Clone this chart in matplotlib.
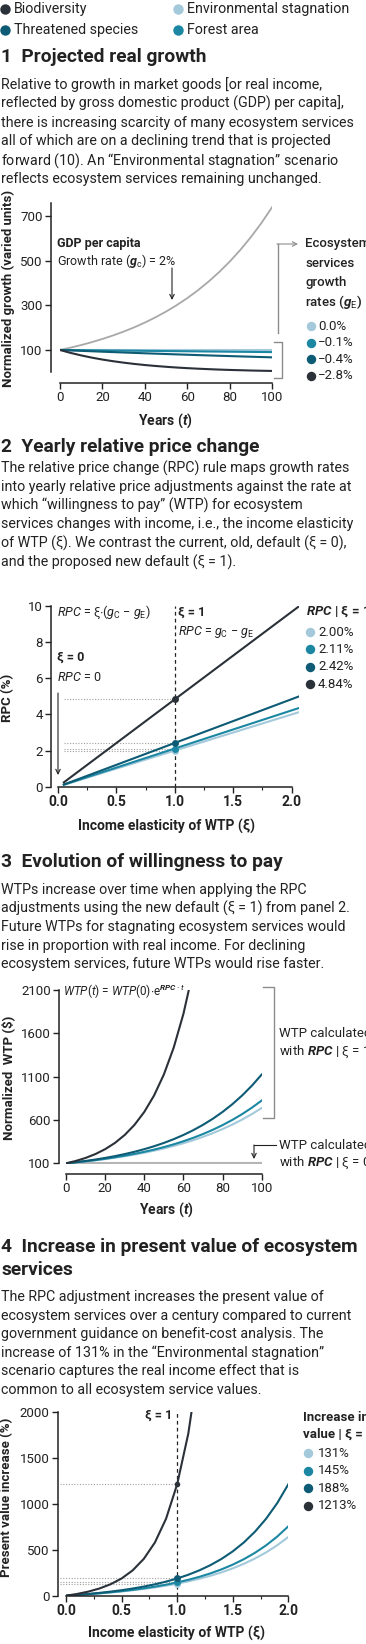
import matplotlib.pyplot as plt

W, H = 366, 1644
plt.rcParams['font.family'] = ['Roboto', 'DejaVu Sans']
plt.rcParams['mathtext.fontset'] = 'custom'
plt.rcParams['mathtext.rm'] = 'Roboto'
plt.rcParams['mathtext.it'] = 'Roboto:italic'
plt.rcParams['mathtext.bf'] = 'Roboto:bold'
plt.rcParams['mathtext.bfit'] = 'Roboto:italic:bold'
plt.rcParams['mathtext.sf'] = 'Roboto'

INK = '#222222'
C_BIO = '#2b3139'
C_THR = '#0d5b74'
C_FOR = '#1b87a2'
C_ENV = '#a3c9db'
C_GDP = '#a8a8a8'
C_GUIDE = '#8c8c8c'

# scenario order used in the small legends: stagnation, forest, threatened, biodiversity
scen_colors = [C_ENV, C_FOR, C_THR, C_BIO]
top_legend = [('Biodiversity', C_BIO), ('Environmental stagnation', C_ENV),
              ('Threatened species', C_THR), ('Forest area', C_FOR)]

# ---- panel 1: projected growth
years = list(range(0, 101, 5))
gdp = [100, 110.5, 122.1, 135.0, 149.2, 164.9, 182.2, 201.4, 222.6, 246.0, 271.8,
       300.4, 332.0, 366.9, 405.5, 448.2, 495.3, 547.4, 605.0, 668.6, 738.9]
grow_env = [100] * 21
grow_for = [100, 99.5, 99.0, 98.5, 98.0, 97.5, 97.0, 96.6, 96.1, 95.6, 95.1,
            94.7, 94.2, 93.7, 93.2, 92.8, 92.3, 91.8, 91.4, 90.9, 90.5]
grow_thr = [100, 98.0, 96.1, 94.2, 92.3, 90.5, 88.7, 86.9, 85.2, 83.5, 81.9,
            80.2, 78.7, 77.1, 75.6, 74.1, 72.6, 71.2, 69.8, 68.4, 67.0]
grow_bio = [100, 86.9, 75.6, 65.7, 57.1, 49.7, 43.2, 37.5, 32.6, 28.4, 24.7,
            21.4, 18.6, 16.2, 14.1, 12.2, 10.6, 9.3, 8.0, 7.0, 6.1]
grow_labels = ['0.0%', '\u22120.1%', '\u22120.4%', '\u22122.8%']

# ---- panel 2: RPC lines
xi_line = [0.05, 2.06]
rpc_env = [0.10, 4.12]
rpc_for = [0.11, 4.35]
rpc_thr = [0.12, 4.99]
rpc_bio = [0.24, 9.97]
rpc_at1 = [2.00, 2.11, 2.42, 4.84]
rpc_labels = ['2.00%', '2.11%', '2.42%', '4.84%']

# ---- panel 3: WTP over time
wtp_env = [100, 110.5, 122.1, 135.0, 149.2, 164.9, 182.2, 201.4, 222.6, 246.0, 271.8,
           300.4, 332.0, 366.9, 405.5, 448.2, 495.3, 547.4, 605.0, 668.6, 738.9]
wtp_for = [100, 111.3, 123.5, 137.2, 152.5, 169.5, 188.3, 209.3, 232.6, 258.4, 287.2,
           319.2, 354.7, 394.1, 438.0, 486.7, 540.9, 601.1, 668.0, 742.3, 824.9]
wtp_thr = [100, 112.9, 127.4, 143.8, 162.3, 183.1, 206.7, 233.3, 263.3, 297.1, 335.3,
           378.5, 427.2, 482.1, 544.1, 614.1, 693.1, 782.2, 882.9, 996.4, 1124.6]
years_bio = list(range(0, 66, 5))
wtp_bio = [100, 127.4, 162.3, 206.7, 263.3, 335.3, 427.2, 544.1, 693.1, 882.9, 1124.6,
           1432.6, 1824.6, 2324.0]
wtp_old = [100] * 21

# ---- panel 4: present value increase
xi = [round(0.1 * i, 1) for i in range(21)]
pv_env = [0, 7.3, 15.4, 24.5, 34.7, 46.2, 59.2, 73.9, 90.6, 109.6, 131.3,
          156.1, 184.4, 216.9, 254.3, 297.5, 347.2, 404.8, 471.5, 548.9, 638.9]
pv_for = [0, 7.7, 16.3, 26.1, 37.1, 49.6, 63.9, 80.1, 98.7, 120.0, 144.5,
          172.8, 205.4, 243.1, 287.0, 338.0, 397.4, 466.8, 548.1, 643.3, 755.1]
pv_thr = [0, 8.9, 19.1, 30.8, 44.3, 59.9, 78.1, 99.3, 124.1, 153.2, 187.5,
          228.0, 276.0, 333.1, 401.1, 482.4, 579.7, 696.7, 837.5, 1007.3, 1212.6]
xi_bio = xi[:13]
pv_bio = [0, 19.1, 44.3, 78.1, 124.1, 187.5, 276.0, 401.1, 579.7, 837.5, 1212.6,
          1762.9, 2576.0]
pv_at1 = [131, 145, 188, 1213]
pv_labels = ['131%', '145%', '188%', '1213%']

fig = plt.figure(figsize=(W / 100, H / 100), dpi=100)
fig.patch.set_facecolor('white')

BODY = 10.3
TITLE = 13.8


def make_axes(x0, x1, ytop, ybot):
    ax = fig.add_axes([x0 / W, 1 - ybot / H, (x1 - x0) / W, (ybot - ytop) / H])
    ax.patch.set_alpha(0)
    for s in ['top', 'right']:
        ax.spines[s].set_visible(False)
    for s in ['left', 'bottom']:
        ax.spines[s].set_linewidth(1.1)
        ax.spines[s].set_color(INK)
    ax.tick_params(length=4, width=1, pad=2, labelsize=9.5, color=INK, labelcolor=INK)
    ax.tick_params(which='minor', length=2.5, width=0.8, color=INK)
    return ax


ov = fig.add_axes([0, 0, 1, 1], zorder=5)
ov.set_xlim(0, W)
ov.set_ylim(H, 0)
ov.axis('off')
ov.patch.set_alpha(0)


def txt(x, y, s, size=10, weight='normal', style='normal', ha='left', **kw):
    ov.text(x, y, s, fontsize=size, fontweight=weight, fontstyle=style, ha=ha,
            va='center', color=INK, **kw)


def para(y0, lines, step=18.8):
    for i, line in enumerate(lines):
        txt(1, y0 + i * step, line, size=BODY)


def dot_legend(xd, xt, y0, step, labels, ms=6.8, size=9.5):
    for i, (c, lab) in enumerate(zip(scen_colors, labels)):
        y = y0 + i * step
        ov.plot(xd, y, 'o', color=c, ms=ms, mec='none', clip_on=False)
        txt(xt, y, lab, size=size)


def arrow(p0, p1, color=INK):
    ov.annotate('', xy=p1, xytext=p0,
                arrowprops=dict(arrowstyle='->', color=color, lw=0.8,
                                shrinkA=0, shrinkB=0, mutation_scale=8))


def guide(xs, ys):
    ov.plot(xs, ys, color=C_GUIDE, lw=1, clip_on=False)


# ---------- top legend
for i, (lab, c) in enumerate(top_legend):
    x = 5 if i % 2 == 0 else 178
    y = 9 if i < 2 else 30
    ov.plot(x, y, 'o', color=c, ms=7.5, mec='none', clip_on=False)
    txt(x + 9, y, lab, size=BODY)

# ---------- panel 1
txt(1, 57, '1  Projected real growth', size=TITLE, weight='bold')
para(85, ['Relative to growth in market goods [or real income,',
          'reflected by gross domestic product (GDP) per capita],',
          'there is increasing scarcity of many ecosystem services',
          'all of which are on a declining trend that is projected',
          'forward (' + r'$\mathit{10}$' + '). An \u201cEnvironmental stagnation\u201d scenario',
          'reflects ecosystem services remaining unchanged.'])

ax1 = make_axes(60, 272, 202.6, 372.3)
ax1.plot(years, gdp, color=C_GDP, lw=1.3)
for vals, c in zip([grow_env, grow_for, grow_thr, grow_bio], scen_colors):
    ax1.plot(years, vals, color=c, lw=1.5)
ax1.set_xlim(0, 100)
ax1.set_ylim(0, 760)
ax1.set_yticks([100, 300, 500, 700])
ax1.set_xticks(range(0, 101, 20), [str(v) for v in range(0, 101, 20)],
               fontweight='bold', fontsize=10)
ax1.spines['left'].set_position(('outward', 6.5))
ax1.spines['bottom'].set_position(('outward', 7.7))

txt(8, 288, 'Normalized growth (varied units)', size=9.5, weight='bold', ha='center',
    rotation=90)
txt(165, 421, r'Years ($\mathbfit{t}$)', size=10, weight='bold', ha='center')
txt(57, 244, 'GDP per capita', size=9, weight='bold')
txt(57, 261, r'Growth rate ($\mathbfit{g}_\mathrm{c}$) = 2%', size=9)
arrow((172, 268), (172, 300))
guide([274, 282, 282, 274], [342, 342, 378, 378])
guide([277.5, 277.5], [333, 244])
arrow((277, 244), (298, 244), color=C_GUIDE)
for i, s in enumerate(['Ecosystem', 'services', 'growth',
                       r'rates ($\mathbfit{g}_\mathrm{E}$)']):
    txt(305, 244 + i * 19.3, s, size=9.5, weight='medium')
dot_legend(311, 318, 326, 16.6, grow_labels)

# ---------- panel 2
txt(1, 447, '2  Yearly relative price change', size=TITLE, weight='bold')
para(468, ['The relative price change (RPC) rule maps growth rates',
           'into yearly relative price adjustments against the rate at',
           'which \u201cwillingness to pay\u201d (WTP) for ecosystem',
           'services changes with income, i.e., the income elasticity',
           'of WTP (\u03be). We contrast the current, old, default (\u03be = 0),',
           'and the proposed new default (\u03be = 1).'])

ax2 = make_axes(58, 298.7, 606, 786.7)
for yv, c in zip(rpc_at1, scen_colors):
    ax2.plot([0.05, 1], [yv, yv], color='#a0a0a0', lw=0.8, ls=(0, (1, 1.5)))
ax2.axvline(1, color=INK, lw=0.9, ls=(0, (3, 2.5)))
for vals, c in zip([rpc_env, rpc_for, rpc_thr, rpc_bio], scen_colors):
    ax2.plot(xi_line, vals, color=c, lw=1.5)
for yv, c in zip(rpc_at1, scen_colors):
    ax2.plot(1, yv, 'o', color=c, ms=5, mec='none', zorder=4)
ax2.set_xlim(0, 2.06)
ax2.set_ylim(0, 10)
ax2.set_yticks(range(0, 11, 2))
ax2.set_xticks([0, 0.5, 1, 1.5, 2], ['0.0', '0.5', '1.0', '1.5', '2.0'],
               fontweight='bold', fontsize=10)
ax2.set_xticks([0.25, 0.75, 1.25, 1.75], minor=True)
ax2.spines['bottom'].set_bounds(0, 2)
ax2.spines['left'].set_position(('outward', 5))

txt(8, 698, 'RPC (%)', size=9.5, weight='bold', ha='center', rotation=90)
txt(167, 826, 'Income elasticity of WTP (\u03be)', size=10, weight='bold', ha='center')
txt(57, 612, r'$RPC$ = ' + '\u03be' + r'$\cdot$($g_\mathrm{C}$ ' + '\u2212' + r' $g_\mathrm{E}$)',
    size=9)
txt(178, 612, '\u03be = 1', size=9, weight='bold')
txt(178, 632, r'$RPC$ = $g_\mathrm{C}$ ' + '\u2212' + r' $g_\mathrm{E}$', size=9)
txt(57, 657, '\u03be = 0', size=9, weight='bold')
txt(57, 677, r'$RPC$ = 0', size=9)
arrow((58, 693), (58, 775))
txt(306, 612, r'$\mathbfit{RPC}$ | ' + '\u03be = 1', size=9.5, weight='bold')
dot_legend(310, 318, 632, 17.4, rpc_labels)

# ---------- panel 3
txt(1, 862, '3  Evolution of willingness to pay', size=TITLE, weight='bold')
para(890, ['WTPs increase over time when applying the RPC',
           'adjustments using the new default (\u03be = 1) from panel 2.',
           'Future WTPs for stagnating ecosystem services would',
           'rise in proportion with real income. For declining',
           'ecosystem services, future WTPs would rise faster.'], step=18.5)

ax3 = make_axes(66, 261.7, 990, 1164.2)
ax3.plot(years, wtp_old, color='#b5b5b5', lw=1.5)
for vals, c in zip([wtp_env, wtp_for, wtp_thr], scen_colors):
    ax3.plot(years, vals, color=c, lw=1.5)
ax3.plot(years_bio, wtp_bio, color=C_BIO, lw=1.5)
ax3.set_xlim(0, 100)
ax3.set_ylim(90, 2100)
ax3.set_yticks([100, 600, 1100, 1600, 2100])
ax3.set_xticks(range(0, 101, 20), [str(v) for v in range(0, 101, 20)],
               fontweight='bold', fontsize=10)
ax3.spines['left'].set_bounds(100, 2100)
ax3.spines['left'].set_position(('outward', 5))
ax3.spines['bottom'].set_position(('outward', 6.8))

txt(8, 1078, 'Normalized  WTP (\\$)', size=9.5, weight='bold', ha='center', rotation=90)
txt(166, 1210, r'Years ($\mathbfit{t}$)', size=10, weight='bold', ha='center')
txt(63, 992, r'$WTP(t)$ = $WTP(0){\cdot}\mathrm{e}^{\mathbfit{RPC}\cdot t}$', size=8.5)
guide([263, 274, 274, 263], [987, 987, 1118, 1118])
txt(279, 1033, 'WTP calculated', size=9.5)
txt(279, 1052, r'with $\mathbfit{RPC}$ | ' + '\u03be = 1', size=9.5)
txt(279, 1145, 'WTP calculated', size=9.5)
txt(279, 1163, r'with $\mathbfit{RPC}$ | ' + '\u03be = 0', size=9.5)
ov.plot([276, 254], [1145, 1145], color=INK, lw=0.8)
arrow((254, 1145), (254, 1159))

# ---------- panel 4
txt(1, 1247, '4  Increase in present value of ecosystem', size=TITLE, weight='bold')
txt(1, 1270, 'services', size=TITLE, weight='bold')
para(1297, ['The RPC adjustment increases the present value of',
            'ecosystem services over a century compared to current',
            'government guidance on benefit-cost analysis. The',
            'increase of 131% in the \u201cEnvironmental stagnation\u201d',
            'scenario captures the real income effect that is',
            'common to all ecosystem service values.'], step=18.6)

ax4 = make_axes(66, 288.3, 1412, 1595.7)
for yv in pv_at1:
    ax4.plot([-0.05, 1], [yv, yv], color='#a0a0a0', lw=0.8, ls=(0, (1, 1.5)), clip_on=False)
ax4.axvline(1, color=INK, lw=0.9, ls=(0, (3, 2.5)))
for vals, c in zip([pv_env, pv_for, pv_thr], scen_colors):
    ax4.plot(xi, vals, color=c, lw=1.5)
ax4.plot(xi_bio, pv_bio, color=C_BIO, lw=1.5)
for yv, c in zip(pv_at1, scen_colors):
    ax4.plot(1, yv, 'o', color=c, ms=5 if c != C_BIO else 4, mec='none', zorder=4)
ax4.set_xlim(0, 2)
ax4.set_ylim(0, 2000)
ax4.set_yticks([0, 500, 1000, 1500, 2000])
ax4.set_xticks([0, 0.5, 1, 1.5, 2], ['0.0', '0.5', '1.0', '1.5', '2.0'],
               fontweight='bold', fontsize=10)
ax4.set_xticks([0.25, 0.75, 1.25, 1.75], minor=True)
ax4.spines['left'].set_position(('outward', 5.8))

txt(7, 1497, 'Present value increase (%)', size=9.5, weight='bold', ha='center', rotation=90)
txt(177, 1633, 'Income elasticity of WTP (\u03be)', size=10, weight='bold', ha='center')
txt(172, 1415, '\u03be = 1', size=9, weight='bold', ha='right')
txt(303, 1417, 'Increase in', size=9.5, weight='bold')
txt(303, 1434, 'value | \u03be = 1', size=9.5, weight='bold')
dot_legend(308, 318, 1453, 17.6, pv_labels)

fig.savefig('out.png', dpi=100, facecolor='white')
